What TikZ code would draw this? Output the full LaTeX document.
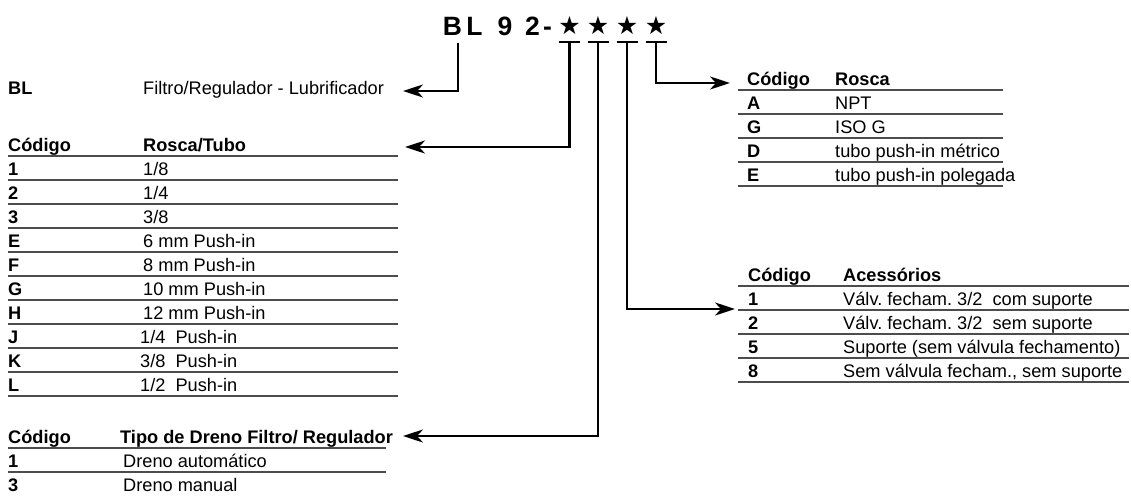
\documentclass[tikz,border=0pt]{standalone}
\usepackage{fontspec}
\setmainfont{Liberation Sans}
\newfontfamily\starfont{DejaVu Sans}
\usetikzlibrary{arrows.meta,calc,positioning}
\tikzstyle{code} =[anchor=base west, inner sep=0pt,
                   font=\bfseries\fontsize{18.2}{20}\selectfont]
\tikzstyle{desc} =[anchor=base west, inner sep=0pt,
                   font=\fontsize{18.2}{20}\selectfont]
\tikzstyle{rule} =[line width=1.4pt, draw=black!70]
\tikzstyle{uline}=[line width=2.5pt]
\tikzstyle{conn} =[line width=2.5pt,
                   -{Stealth[length=20pt, width=13pt, inset=6pt]}]
\tikzstyle{title}=[anchor=base, inner sep=0pt,
                   font=\bfseries\fontsize{26.5}{30}\selectfont]
\tikzstyle{star} =[anchor=base, inner sep=0pt,
                   font=\starfont\fontsize{25}{30}\selectfont]

\begin{document}
\frenchspacing
\begin{tikzpicture}[x=1pt, y=-1pt]
    \useasboundingbox (0,0) rectangle (1131,495);
    % code title
    \foreach \ch/\x [count=\i] in {B/452.5, L/474.5, 9/505, 2/532.5, -/547.5}
        \node[title] (t\i) at (\x,36) {\ch};
    \foreach \x [count=\i] in {569.5, 598, 627, 656} {
        \node[star] (s\i) at (\x,35) {★};
        \draw[uline] (\x-10.5,42) -- (\x+10.5,42);
        \coordinate (u\i) at (\x,42);
    }
    \coordinate (u0) at (458,43);

    % BL
    \node[code] (bl) at (8,94) {BL};
    \node[desc] (bld) at (143,94) {Filtro/Regulador - Lubrificador};

    % Rosca/Tubo
    \node[code] (ca) at (8,151) {Código};
    \node[code] (da) at (143,151) {Rosca/Tubo};
    \foreach \c/\d [count=\i] in {1/{1/8}, 2/{1/4}, 3/{3/8}, E/{6 mm Push-in},
            F/{8 mm Push-in}, G/{10 mm Push-in}, H/{12 mm Push-in}} {
        \node[code] (ca\i) at (8,151+24*\i) {\c};
        \node[desc] (da\i) at (143,151+24*\i) {\d};
    }
    \foreach \c/\d [count=\i from 8] in {J/{1/4\ \ Push-in}, K/{3/8\ \ Push-in},
            L/{1/2\ \ Push-in}} {
        \node[code] (ca\i) at (8,151+24*\i) {\c};
        \node[desc] (da\i) at (140,151+24*\i) {\d};
    }
    \foreach \i in {0,...,10}
        \draw[rule] (8,156+24*\i) -- (398,156+24*\i);

    % Dreno
    \node[code] (cb) at (8,443) {Código};
    \node[code] (db) at (120,443) {Tipo de Dreno Filtro/ Regulador};
    \node[code] (cb1) at (8,467) {1};
    \node[desc] (db1) at (123,467) {Dreno automático};
    \node[code] (cb2) at (8,491) {3};
    \node[desc] (db2) at (123,491) {Dreno manual};
    \draw[rule] (8,448) -- (386,448);
    \draw[rule] (8,472) -- (386,472);

    % Rosca
    \node[code] (cc) at (747,85) {Código};
    \node[code] (dc) at (835,85) {Rosca};
    \foreach \c/\d [count=\i] in {A/NPT, G/ISO G, D/tubo push-in métrico,
            E/tubo push-in polegada} {
        \node[code] (cc\i) at (747,85+24*\i) {\c};
        \node[desc] (dc\i) at (835,85+24*\i) {\d};
    }
    \foreach \i in {0,...,4}
        \draw[rule] (738,90+24*\i) -- (1003,90+24*\i);

    % Acessorios
    \node[code] (cd) at (748,281) {Código};
    \node[code] (dd) at (843,281) {Acessórios};
    \foreach \c/\d [count=\i] in {1/{Válv. fecham. 3/2\ \ com suporte},
            2/{Válv. fecham. 3/2\ \ sem suporte},
            5/{Suporte (sem válvula fechamento)},
            8/{Sem válvula fecham., sem suporte}} {
        \node[code] (cd\i) at (748,281+24*\i) {\c};
        \node[desc] (dd\i) at (843,281+24*\i) {\d};
    }
    \foreach \i in {0,...,4}
        \draw[rule] (738,286+24*\i) -- (1129,286+24*\i);

    % connectors
    \coordinate (p0) at (403,91);
    \coordinate (p1) at (405,147);
    \coordinate (p2) at (403,436);
    \coordinate (p3) at (735,309);
    \coordinate (p4) at (730,83);
    \draw[conn] (u0) |- (p0);
    \draw[conn] (u1) |- (p1);
    \draw[conn] (u2) |- (p2);
    \draw[conn] (u3) |- (p3);
    \draw[conn] (u4) |- (p4);
\end{tikzpicture}
\end{document}
